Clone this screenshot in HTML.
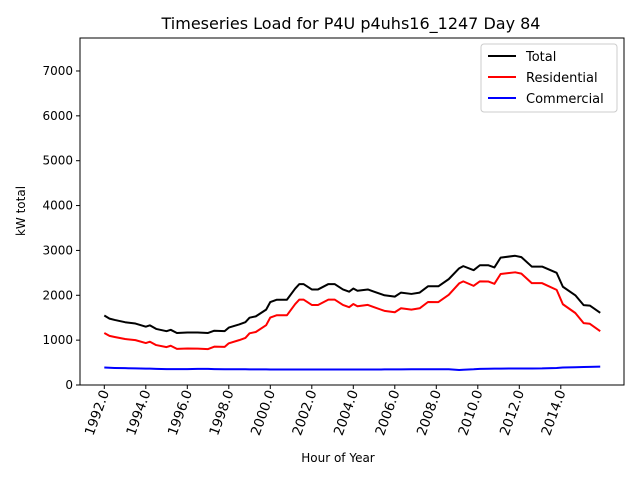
<!DOCTYPE html>
<html><head><meta charset="utf-8"><style>
body{margin:0;background:#fff;}
svg text{font-family:"DejaVu Sans","Liberation Sans",sans-serif;}
</style></head><body>
<svg id="chart" width="640" height="480" xmlns="http://www.w3.org/2000/svg">
<rect width="640" height="480" fill="#fff"/>
<text x="351" y="29" font-size="16" text-anchor="middle">Timeseries Load for P4U p4uhs16_1247  Day 84</text>
<g id="plot"></g>
<rect x="80" y="38" width="544" height="347" fill="none" stroke="#000" stroke-width="1"/>
<text x="338" y="462" font-size="12" text-anchor="middle">Hour of Year</text>
<text transform="translate(25,211) rotate(-90)" font-size="12" text-anchor="middle">kW total</text>
<g>
<rect x="481" y="44" width="136" height="68" fill="#fff" stroke="#ccc" rx="3"/>
<line x1="488" y1="56" x2="516" y2="56" stroke="#000" stroke-width="2"/>
<text x="526" y="61" font-size="13">Total</text>
<line x1="488" y1="77" x2="516" y2="77" stroke="#f00" stroke-width="2"/>
<text x="526" y="82" font-size="13">Residential</text>
<line x1="488" y1="98" x2="516" y2="98" stroke="#00f" stroke-width="2"/>
<text x="526" y="103" font-size="13">Commercial</text>
</g>
</svg>
<script>
const years=[1992,1992.25,1992.5,1993,1993.5,1994,1994.2,1994.5,1995,1995.2,1995.5,1996,1996.5,1997,1997.3,1997.8,1998,1998.5,1998.8,1999,1999.3,1999.8,2000,2000.3,2000.8,2001.2,2001.4,2001.6,2002,2002.3,2002.8,2003.1,2003.5,2003.8,2004,2004.2,2004.7,2005,2005.5,2006,2006.3,2006.8,2007.2,2007.6,2008.1,2008.6,2009.1,2009.3,2009.8,2010.1,2010.5,2010.8,2011.1,2011.8,2012.1,2012.6,2013.1,2013.8,2014.1,2014.7,2015.1,2015.4,2015.9];
const total=[1550,1480,1450,1400,1370,1300,1330,1250,1200,1230,1160,1170,1170,1160,1210,1200,1280,1350,1400,1500,1530,1680,1850,1900,1900,2150,2250,2250,2130,2130,2250,2250,2130,2080,2150,2100,2130,2080,2000,1970,2060,2030,2060,2200,2200,2360,2600,2650,2560,2670,2670,2620,2840,2880,2850,2640,2640,2500,2190,2000,1780,1770,1610];
const commercial=[390,385,380,375,370,365,365,360,355,355,355,355,360,360,355,350,350,350,350,348,348,347,346,346,346,346,346,346,346,346,346,346,346,346,345,345,345,346,347,348,349,350,350,350,352,350,335,340,350,360,362,364,366,368,368,368,370,380,390,395,400,405,410];
const residential=[1160,1095,1070,1025,1000,935,965,890,845,875,805,815,810,800,855,850,930,1000,1050,1152,1182,1333,1504,1554,1554,1804,1904,1904,1784,1784,1904,1904,1784,1734,1805,1755,1785,1734,1653,1622,1711,1680,1710,1850,1848,2010,2265,2310,2210,2310,2308,2256,2474,2512,2482,2272,2270,2120,1800,1605,1380,1365,1200];
const yTicks=[0,1000,2000,3000,4000,5000,6000,7000];
const xTicks=[1992,1994,1996,1998,2000,2002,2004,2006,2008,2010,2012,2014];
const NS="http://www.w3.org/2000/svg";
const g=document.getElementById('plot');
const xs=y=>104.3+(y-1992)*20.75;
const ys=v=>385-v*0.04486;
function mk(t,a){const e=document.createElementNS(NS,t);for(const k in a)e.setAttribute(k,a[k]);g.appendChild(e);return e;}
yTicks.forEach(v=>{
  const l=mk('line',{x1:76,x2:80,y1:ys(v),y2:ys(v),stroke:'#000'});
  
  
  const t=mk('text',{x:73,y:ys(v)+4,'font-size':12,'text-anchor':'end'});
  t.textContent=v;
  
  
});
xTicks.forEach(v=>{
  const x=xs(v);
  const l=mk('line',{x1:x,x2:x,y1:385,y2:389,stroke:'#000'});
  
  
  const t=mk('text',{transform:`translate(${x+5},392) rotate(-70)`,'font-size':13.5,'text-anchor':'end'});
  t.textContent=v.toFixed(1);
  
  
});
function line(vals,color,name){
  const p=mk('polyline',{points:years.map((y,i)=>xs(y)+','+ys(vals[i])).join(' '),fill:'none',stroke:color,'stroke-width':2,'stroke-linejoin':'round'});
  
  
}
line(commercial,'#00f','commercial-line');
line(residential,'#f00','residential-line');
line(total,'#000','total-line');
</script>
</body></html>
